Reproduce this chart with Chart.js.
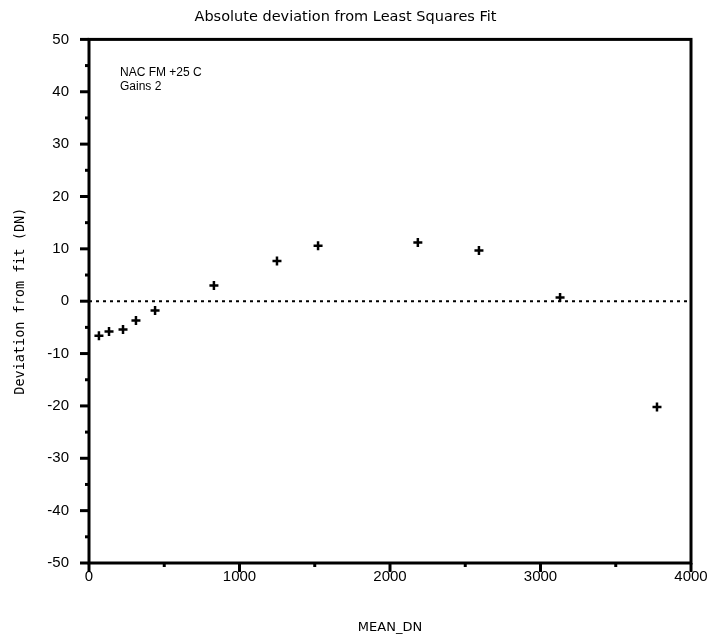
<!DOCTYPE html>
<html>
<head>
<meta charset="utf-8">
<script src="https://cdn.jsdelivr.net/npm/chart.js@4.4.0/dist/chart.umd.min.js"></script>
<style>
  html, body { margin: 0; padding: 0; background: #fff; }
  #wrap { width: 719px; height: 637px; }
</style>
</head>
<body>
<div id="wrap"><canvas id="chart" width="719" height="637"></canvas></div>
<script>
// Data
const meanDn = [66, 133, 226, 312, 439, 830, 1249, 1522, 2185, 2591, 3130, 3774];
const deviation = [-6.6, -5.8, -5.4, -3.7, -1.8, 3.0, 7.7, 10.6, 11.2, 9.7, 0.7, -20.2];
const fitLineX = [0, 4000];
const fitLineY = [0, 0];
const xTicks = [0, 1000, 2000, 3000, 4000];
const yTicks = [-50, -40, -30, -20, -10, 0, 10, 20, 30, 40, 50];
const noteLines = ['NAC FM +25 C', 'Gains 2'];

const tickFont = { family: 'Liberation Sans', size: 15 };

// draws the frame, outward ticks (major + minor) and the note text
const framePlugin = {
    id: 'frame',
    afterDraw(chart) {
        const ctx = chart.ctx;
        const a = chart.chartArea;
        const xs = chart.scales.x;
        const ys = chart.scales.y;
        ctx.save();
        ctx.strokeStyle = '#000';
        ctx.lineWidth = 3;
        ctx.strokeRect(a.left, a.top, a.right - a.left, a.bottom - a.top);

        for (let v = -50; v <= 50; v += 5) {
            const y = ys.getPixelForValue(v);
            const len = v % 10 === 0 ? 9 : 4;
            ctx.beginPath();
            ctx.moveTo(a.left - len, y);
            ctx.lineTo(a.left, y);
            ctx.stroke();
        }
        for (let v = 0; v <= 4000; v += 500) {
            const x = xs.getPixelForValue(v);
            const len = v % 1000 === 0 ? 9 : 4;
            ctx.beginPath();
            ctx.moveTo(x, a.bottom);
            ctx.lineTo(x, a.bottom + len);
            ctx.stroke();
        }

        ctx.fillStyle = '#000';
        ctx.font = '12px "Liberation Sans"';
        ctx.textBaseline = 'middle';
        noteLines.forEach((t, i) => {
            ctx.fillText(t, a.left + 31, a.top + 33 + i * 14);
        });
        ctx.restore();
    }
};

const ctx1 = document.getElementById('chart').getContext('2d');

const chart = new Chart(ctx1, {
    type: 'scatter',
    data: {
        datasets: [
            {
                label: 'fit',
                type: 'line',
                data: fitLineX.map((x, i) => ({ x: x, y: fitLineY[i] })),
                borderColor: '#000',
                borderWidth: 2,
                borderDash: [3, 4],
                pointRadius: 0,
                fill: false
            },
            {
                label: 'deviation',
                data: meanDn.map((x, i) => ({ x: x, y: deviation[i] })),
                pointStyle: 'cross',
                pointRadius: 4.5,
                borderColor: '#000',
                backgroundColor: '#000',
                pointBorderWidth: 2.5
            }
        ]
    },
    options: {
        responsive: false,
        animation: false,
        layout: { padding: { left: 0, right: 28, top: 0, bottom: 2 } },
        plugins: {
            legend: { display: false },
            tooltip: { enabled: false },
            title: {
                display: true,
                text: 'Absolute deviation from Least Squares Fit',
                color: '#000',
                font: { family: 'DejaVu Sans', size: 14.5, weight: 'normal' },
                padding: { top: 9, bottom: 13 }
            }
        },
        scales: {
            x: {
                type: 'linear',
                min: 0,
                max: 4000,
                afterBuildTicks: s => { s.ticks = xTicks.map(v => ({ value: v })); },
                afterFit: s => { s.height = 72; },
                grid: { display: false, drawTicks: false },
                border: { display: false },
                ticks: { color: '#000', font: tickFont, padding: 5, maxRotation: 0, callback: v => String(v) },
                title: {
                    display: true,
                    text: 'MEAN_DN',
                    color: '#000',
                    font: { family: 'DejaVu Sans', size: 13 },
                    padding: { top: 0, bottom: 0 }
                }
            },
            y: {
                type: 'linear',
                min: -50,
                max: 50,
                afterBuildTicks: s => { s.ticks = yTicks.map(v => ({ value: v })); },
                afterFit: s => { s.width = 89; },
                grid: { display: false, drawTicks: false },
                border: { display: false },
                ticks: { color: '#000', font: tickFont, padding: 20 },
                title: {
                    display: true,
                    text: 'Deviation from fit (DN)',
                    color: '#000',
                    font: { family: 'DejaVu Sans Mono', size: 13.5 },
                    padding: { top: 12, bottom: 4 }
                }
            }
        }
    },
    plugins: [framePlugin]
});
</script>
</body>
</html>
